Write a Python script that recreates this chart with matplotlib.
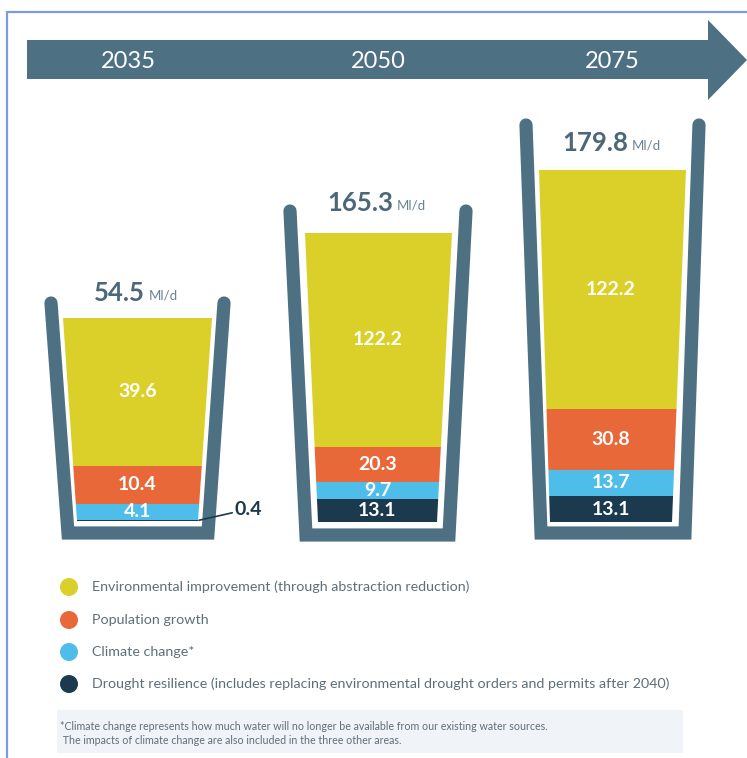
import matplotlib.pyplot as plt
from matplotlib.patches import Polygon, Circle, Rectangle
from matplotlib.lines import Line2D

plt.rcParams['font.family'] = ['Lato', 'DejaVu Sans']

# supply/demand components per horizon, Ml/d
years = ['2035', '2050', '2075']
categories = ['Environmental improvement (through abstraction reduction)',
              'Population growth',
              'Climate change*',
              'Drought resilience (includes replacing environmental drought orders and permits after 2040)']
environmental = [39.6, 122.2, 122.2]
population = [10.4, 20.3, 30.8]
climate = [4.1, 9.7, 13.7]
drought = [0.4, 13.1, 13.1]
footnote = ['*Climate change represents how much water will no longer be available from our existing water sources.',
            ' The impacts of climate change are also included in the three other areas.']

# colours follow the category order above
colors = ['#dbd02a', '#e9683a', '#4fbde9', '#1b3a4e']
slate = '#4e7083'
text_grey = '#5f6f79'

W, H = 747, 758
fig = plt.figure(figsize=(W / 100, H / 100), dpi=100)
bg = fig.add_axes([0, 0, 1, 1])
bg.set_xlim(0, W)
bg.set_ylim(H, 0)
bg.axis('off')

# frame
bg.plot([7, 7, W], [H, 12, 12], color='#7d9be0', lw=1.6, solid_joinstyle='miter')

# timeline arrow
bg.add_patch(Polygon([(27, 40), (708, 40), (708, 20), (747, 60), (708, 100),
                      (708, 79), (27, 79)], closed=True, fc=slate, ec='none'))
year_x = [128, 378, 612]
for x, yr in zip(year_x, years):
    bg.text(x, 61, yr, color='white', fontsize=17, ha='center', va='center')

# glass geometry in pixels: wall centre line (top y, bottom y, left top/bottom x, right top/bottom x)
glasses = [
    dict(top=303, bot=533, lt=51, lb=68, rt=224, rb=208),
    dict(top=211, bot=535, lt=290, lb=306, rt=466, rb=449),
    dict(top=125, bot=533, lt=526, lb=541, rt=699, rb=685),
]
# liquid area: top y, bottom y, left top/bottom x, right top/bottom x
fills = [
    dict(top=318, bot=521, lt=63, lb=77, rt=212, rb=198),
    dict(top=233, bot=522, lt=305, lb=318, rt=452, rb=437),
    dict(top=170, bot=522, lt=539, lb=550, rt=686, rb=672),
]
total_pos = [(145, 293), (393, 203), (628, 143)]

# stacked from the bottom of the glass upwards
stack = [drought, climate, population, environmental]
stack_colors = colors[::-1]

for i, (g, f) in enumerate(zip(glasses, fills)):
    vals = [s[i] for s in stack]
    total = sum(vals)
    left, right = min(f['lt'], f['lb']), max(f['rt'], f['rb'])
    ax = fig.add_axes([left / W, 1 - f['bot'] / H, (right - left) / W,
                       (f['bot'] - f['top']) / H])
    ax.set_xlim(left, right)
    ax.set_ylim(0, total)
    ax.axis('off')
    clip = Polygon([(f['lb'], f['bot']), (f['rb'], f['bot']),
                    (f['rt'], f['top']), (f['lt'], f['top'])],
                   closed=True, transform=bg.transData)
    cx = (left + right) / 2
    bottom = 0
    for v, c in zip(vals, stack_colors):
        bars = ax.bar(cx, v, bottom=bottom, width=right - left, color=c,
                      linewidth=0)
        for b in bars:
            b.set_clip_path(clip)
        if v >= 1:
            ax.text((f['lb'] + f['rb']) / 2, bottom + v / 2, f'{v:.1f}',
                    color='white', fontsize=14, fontweight='bold',
                    ha='center', va='center')
        else:
            # too thin to hold its label: call it out beside the glass
            ax.annotate(f'{v:.1f}', xy=(f['rb'] + 1, bottom + v / 2),
                        xytext=(f['rb'] + 37, bottom + v / 2 + 3),
                        color=colors[3], fontsize=14, fontweight='bold',
                        ha='left', va='center', annotation_clip=False,
                        arrowprops=dict(arrowstyle='-', color=colors[3], lw=1.2,
                                        shrinkA=0, shrinkB=0))
        bottom += v

    # glass outline
    bg.add_line(Line2D([g['lt'], g['lb'], g['rb'], g['rt']],
                       [g['top'], g['bot'], g['bot'], g['top']],
                       color=slate, lw=9.5, solid_capstyle='round',
                       solid_joinstyle='miter'))

    tx, ty = total_pos[i]
    bg.text(tx, ty, f'{total:.1f}', color='#4a687a', fontsize=18.5,
            fontweight='bold', ha='right', va='center')
    bg.text(tx + 4, ty + 2, 'Ml/d', color='#6a8493', fontsize=9.5,
            ha='left', va='center')

# legend
legend_y = [587, 620, 652, 684]
for y, c, lab in zip(legend_y, colors, categories):
    bg.add_patch(Circle((69, y), 9, fc=c, ec='none'))
    bg.text(92, y, lab, color=text_grey, fontsize=10.3, ha='left', va='center')

# footnote
bg.add_patch(Rectangle((57, 710), 626, 43, fc='#f0f3f7', ec='none'))
bg.text(60, 727, footnote[0], color=text_grey, fontsize=7.7, ha='left', va='center')
bg.text(60, 741, footnote[1], color=text_grey, fontsize=7.7, ha='left', va='center')

fig.savefig('out.png', dpi=100)
